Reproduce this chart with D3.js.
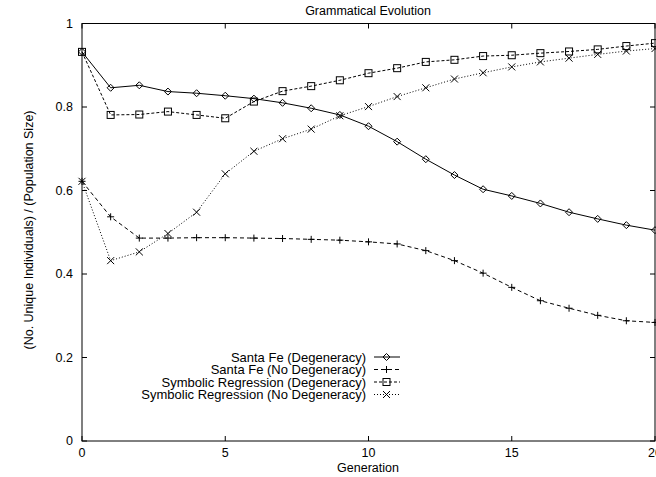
<!DOCTYPE html>
<style>
body { margin: 0; padding: 0; background: #fff; }
svg { font-family: "Liberation Sans", Arial, sans-serif; }
</style>
<svg width="656" height="477"></svg>
<script src="https://d3js.org/d3.v7.min.js"></script>
<script>

var generations = d3.range(0, 21);

var santaFeDeg = [0.932, 0.846, 0.852, 0.837, 0.833, 0.827, 0.820, 0.810, 0.797, 0.781, 0.754,
  0.717, 0.675, 0.637, 0.603, 0.587, 0.569, 0.548, 0.532, 0.517, 0.505];
var santaFeNoDeg = [0.622, 0.537, 0.486, 0.486, 0.487, 0.487, 0.486, 0.485, 0.483, 0.481, 0.477,
  0.472, 0.456, 0.432, 0.402, 0.368, 0.336, 0.318, 0.301, 0.288, 0.284];
var symRegDeg = [0.932, 0.781, 0.782, 0.789, 0.781, 0.773, 0.813, 0.838, 0.850, 0.864, 0.881,
  0.893, 0.908, 0.913, 0.922, 0.924, 0.929, 0.933, 0.938, 0.946, 0.953];
var symRegNoDeg = [0.622, 0.432, 0.453, 0.497, 0.548, 0.640, 0.694, 0.724, 0.747, 0.779, 0.801,
  0.825, 0.846, 0.867, 0.882, 0.896, 0.908, 0.917, 0.926, 0.934, 0.940];

var seriesNames = ["Santa Fe (Degeneracy)", "Santa Fe (No Degeneracy)",
  "Symbolic Regression (Degeneracy)", "Symbolic Regression (No Degeneracy)"];
var xTicks = [0, 5, 10, 15, 20];
var yTicks = [0, 0.2, 0.4, 0.6, 0.8, 1];

var series = [
  {name: seriesNames[0], values: santaFeDeg, dash: null, marker: "diamond"},
  {name: seriesNames[1], values: santaFeNoDeg, dash: "4,3", marker: "plus"},
  {name: seriesNames[2], values: symRegDeg, dash: "3,2", marker: "square"},
  {name: seriesNames[3], values: symRegNoDeg, dash: "1,2", marker: "cross"}
];

var fs = 12.5;

var svg = d3.select("svg"),
    margin = {top: 23.5, right: 1, bottom: 36, left: 82},
    width = +svg.attr("width") - margin.left - margin.right,
    height = +svg.attr("height") - margin.top - margin.bottom,
    g = svg.append("g").attr("transform", "translate(" + margin.left + "," + margin.top + ")");

var x = d3.scaleLinear().domain([0, 20]).range([0, width]);
var y = d3.scaleLinear().domain([0, 1]).range([height, 0]);

function drawMarker(sel, type) {
  var s = 3.5;
  if (type == "diamond") {
    sel.append("path").attr("d", "M0," + (-s) + "L" + s + ",0L0," + s + "L" + (-s) + ",0Z")
      .attr("fill", "none").attr("stroke", "#000");
  } else if (type == "plus") {
    sel.append("path").attr("d", "M" + (-s) + ",0H" + s + "M0," + (-s) + "V" + s)
      .attr("stroke", "#000");
  } else if (type == "square") {
    sel.append("rect").attr("x", -s).attr("y", -s).attr("width", 2 * s).attr("height", 2 * s)
      .attr("fill", "none").attr("stroke", "#000");
  } else {
    sel.append("path").attr("d", "M" + (-s) + "," + (-s) + "L" + s + "," + s + "M" + (-s) + "," + s + "L" + s + "," + (-s))
      .attr("stroke", "#000");
  }
}

// frame
g.append("rect")
  .attr("width", width).attr("height", height)
  .attr("fill", "none").attr("stroke", "#000").attr("stroke-width", 1);

// ticks (inward, mirrored)
var tl = 5;
xTicks.forEach(function(t) {
  g.append("line").attr("x1", x(t)).attr("x2", x(t)).attr("y1", height).attr("y2", height - tl).attr("stroke", "#000");
  g.append("line").attr("x1", x(t)).attr("x2", x(t)).attr("y1", 0).attr("y2", tl).attr("stroke", "#000");
  g.append("text").attr("x", x(t)).attr("y", height + 16).attr("text-anchor", "middle")
    .attr("font-size", fs).text(t);
});
yTicks.forEach(function(t) {
  g.append("line").attr("x1", 0).attr("x2", tl).attr("y1", y(t)).attr("y2", y(t)).attr("stroke", "#000");
  g.append("line").attr("x1", width).attr("x2", width - tl).attr("y1", y(t)).attr("y2", y(t)).attr("stroke", "#000");
  g.append("text").attr("x", -9).attr("y", y(t)).attr("dy", "0.35em").attr("text-anchor", "end")
    .attr("font-size", fs).text(t);
});

// titles
svg.append("text").attr("x", 368).attr("y", 15).attr("text-anchor", "middle")
  .attr("font-size", fs).text("Grammatical Evolution");
svg.append("text").attr("x", 368).attr("y", 472).attr("text-anchor", "middle")
  .attr("font-size", fs).text("Generation");
svg.append("text").attr("transform", "translate(33," + 230 + ") rotate(-90)")
  .attr("text-anchor", "middle").attr("font-size", fs)
  .text("(No. Unique Individuals) / (Population Size)");

var line = d3.line()
  .x(function(d, i) { return x(generations[i]); })
  .y(function(d) { return y(d); });

series.forEach(function(s) {
  g.append("path").datum(s.values)
    .attr("d", line)
    .attr("fill", "none")
    .attr("stroke", "#000")
    .attr("stroke-width", 1)
    .attr("stroke-dasharray", s.dash);
  g.selectAll(null).data(s.values).enter().append("g")
    .attr("transform", function(d, i) { return "translate(" + x(generations[i]) + "," + y(d) + ")"; })
    .each(function() { drawMarker(d3.select(this), s.marker); });
});

// legend
var legend = svg.append("g").selectAll("g").data(series).enter().append("g")
  .attr("transform", function(d, i) { return "translate(0," + (357 + i * 12.5) + ")"; });
legend.append("text").attr("x", 366).attr("dy", "0.35em").attr("text-anchor", "end")
  .attr("font-size", 13).text(function(d) { return d.name; });
legend.append("line").attr("x1", 374).attr("x2", 400)
  .attr("stroke", "#000").attr("stroke-dasharray", function(d) { return d.dash; });
legend.append("g").attr("transform", "translate(386.5,0)")
  .each(function(d) { drawMarker(d3.select(this), d.marker); });

</script>
